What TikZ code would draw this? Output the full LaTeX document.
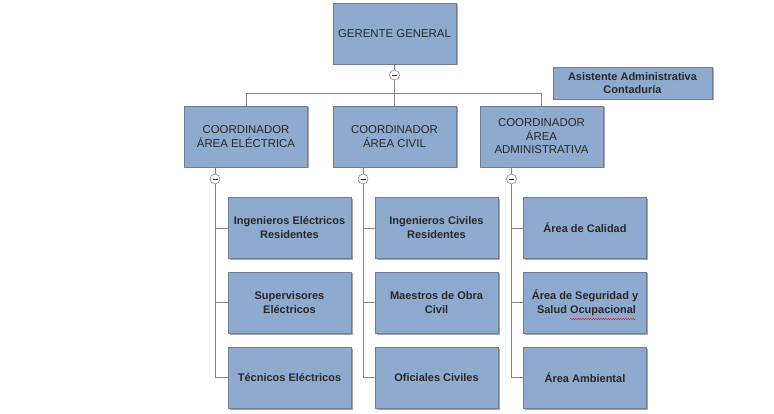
\documentclass[tikz,border=0pt]{standalone}
\usepackage{fontspec}
\setmainfont{Liberation Sans}
\usetikzlibrary{shadows,decorations.pathmorphing}
\definecolor{boxfill}{RGB}{142,170,206}
\definecolor{boxdraw}{RGB}{110,125,145}
\definecolor{txt}{RGB}{40,40,40}
\definecolor{conn}{RGB}{130,130,130}
\tikzset{
  box/.style={draw=boxdraw, line width=0.8pt, fill=boxfill, align=center, text=txt,
    minimum width=123pt, minimum height=61pt, inner sep=2pt,
    drop shadow={shadow xshift=1.5pt, shadow yshift=-1.5pt, fill=black, opacity=0.35},
    font=\fontsize{11.4}{13.5}\selectfont},
  child/.style={box, font=\fontsize{11}{14}\selectfont\bfseries},
  toggle/.style={circle, draw=conn, fill=white, minimum size=10pt, inner sep=0pt, line width=0.6pt},
  link/.style={draw=conn, line width=0.9pt},
}
\begin{document}
\begin{tikzpicture}[x=1pt,y=-1pt]
\useasboundingbox (0,0) rectangle (774,414);
% top
\node[box] (gg) at (394.5,33.5) {GERENTE GENERAL};
\node[box, minimum width=159pt, minimum height=32pt, font=\fontsize{11}{13}\selectfont\bfseries] (asis) at (632.5,83) {Asistente Administrativa\\Contadur\'ia};
% coordinators
\node[box] (ce) at (246,136.5) {COORDINADOR\\\'AREA EL\'ECTRICA};
\node[box] (cc) at (394.5,136.5) {COORDINADOR\\\'AREA CIVIL};
\node[box] (ca) at (541.5,136.5) {COORDINADOR\\\'AREA\\ADMINISTRATIVA};
% children col 1
\node[child] (e1) at (289.5,228) {Ingenieros El\'ectricos\\Residentes};
\node[child] (e2) at (289.5,302.5) {Supervisores\\El\'ectricos};
\node[child] (e3) at (289.5,377.5) {T\'ecnicos El\'ectricos};
% col 2
\node[child] (c1) at (436.5,228) {Ingenieros Civiles\\Residentes};
\node[child] (c2) at (436.5,302.5) {Maestros de Obra\\Civil};
\node[child] (c3) at (436.5,377.5) {Oficiales Civiles};
% col 3
\node[child] (a1) at (585,228) {\'Area de Calidad};
\node[child] (a2) at (585,302.5) {\'Area de Seguridad y\\\ Salud Ocupacional};
\node[child] (a3) at (585,377.5) {\'Area Ambiental};
% spell-check squiggle
\draw[red, line width=0.4pt, decoration={snake, amplitude=0.7pt, segment length=2.5pt}, decorate] (570,319) -- (636,319);
% toggles
\node[toggle] (tg) at (394.5,75) {};
\node[toggle] (te) at (215,179) {};
\node[toggle] (tc) at (363,179) {};
\node[toggle] (ta) at (511.5,179) {};
% bus coordinates
\coordinate (bus) at (394.5,93);
\coordinate (busl) at (246,93);
\coordinate (busr) at (541.5,93);
\coordinate (ee) at (215,377.5);
\coordinate (ec) at (363,377.5);
\coordinate (ea) at (511.5,377.5);
% connectors
\path[link] (gg.south) -- (tg.north);
\path[link] (tg.south) -- (bus);
\path[link] (ce.north) -- (busl) -- (busr) -- (ca.north);
\path[link] (bus) -- (cc.north);
\path[link] (te.north) -- (te.north |- ce.south);
\path[link] (tc.north) -- (tc.north |- cc.south);
\path[link] (ta.north) -- (ta.north |- ca.south);
\path[link] (te.south) -- (ee);
\path[link] (tc.south) -- (ec);
\path[link] (ta.south) -- (ea);
\foreach \t/\n in {te/e1,te/e2,te/e3,tc/c1,tc/c2,tc/c3,ta/a1,ta/a2,ta/a3}
  \path[link] (\t |- \n.west) -- (\n.west);
% minus signs
\foreach \t in {tg,te,tc,ta}
  \draw[txt, line width=0.8pt] ([xshift=-2.5pt]\t.center) -- ([xshift=2.5pt]\t.center);
\end{tikzpicture}
\end{document}
